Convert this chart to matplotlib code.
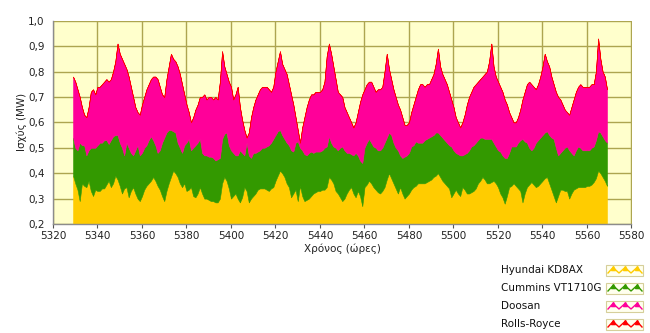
import matplotlib
matplotlib.use("Agg")
import matplotlib.pyplot as plt
from matplotlib.patches import Rectangle
from matplotlib.lines import Line2D

# Hourly output per generating unit (MW), hours 5329..5569
hours = list(range(5329, 5570))

hyundai = [
    .39, .36, .335, .29, .36, .35, .345, .37, .33, .31,
    .335, .33, .33, .34, .34, .355, .37, .345, .36, .39,
    .375, .35, .32, .34, .345, .305, .33, .345, .32, .30,
    .29, .31, .335, .35, .36, .37, .385, .37, .35, .335,
    .31, .29, .33, .36, .385, .41, .40, .385, .36, .345,
    .36, .33, .335, .345, .31, .305, .32, .345, .32, .30,
    .30, .295, .29, .29, .285, .285, .30, .36, .385, .37,
    .34, .30, .31, .32, .30, .285, .305, .345, .33, .285,
    .30, .31, .32, .335, .34, .34, .34, .335, .33, .34,
    .345, .37, .39, .41, .40, .385, .36, .345, .305, .32,
    .335, .29, .35, .31, .29, .295, .30, .31, .32, .325,
    .33, .33, .335, .335, .345, .385, .375, .36, .33, .32,
    .305, .29, .30, .32, .335, .345, .32, .305, .33, .31,
    .27, .345, .355, .37, .36, .345, .335, .325, .32, .33,
    .345, .375, .40, .38, .36, .34, .32, .345, .32, .30,
    .31, .32, .335, .345, .35, .36, .36, .36, .36, .365,
    .37, .375, .385, .39, .40, .385, .37, .36, .35, .34,
    .305, .32, .335, .32, .31, .345, .335, .32, .32, .325,
    .33, .34, .36, .37, .385, .375, .36, .36, .365, .37,
    .36, .345, .32, .305, .28, .31, .345, .35, .36, .35,
    .34, .33, .285, .32, .345, .355, .365, .355, .345, .35,
    .36, .37, .38, .385, .36, .335, .31, .285, .31, .335,
    .335, .33, .33, .30, .32, .335, .34, .345, .345, .345,
    .345, .35, .35, .355, .365, .38, .41, .40, .385, .37,
    .35,
]

cummins = [
    .15, .14, .155, .23, .15, .16, .125, .12, .17, .19,
    .165, .18, .19, .18, .19, .175, .145, .185, .185, .16,
    .175, .17, .18, .13, .175, .195, .15, .125, .17, .21,
    .18, .17, .165, .16, .17, .175, .145, .14, .13, .155,
    .21, .25, .23, .21, .185, .155, .16, .135, .14, .135,
    .15, .19, .20, .145, .19, .205, .20, .19, .16, .17,
    .17, .17, .175, .17, .165, .17, .16, .175, .17, .19,
    .17, .19, .17, .15, .17, .205, .175, .125, .19, .185,
    .16, .17, .16, .15, .15, .16, .16, .17, .18, .18,
    .19, .18, .175, .16, .15, .15, .16, .165, .185, .165,
    .185, .235, .15, .18, .185, .175, .18, .175, .16, .16,
    .155, .155, .155, .165, .16, .16, .145, .145, .17, .17,
    .195, .215, .19, .16, .145, .13, .15, .175, .14, .14,
    .17, .155, .165, .165, .16, .16, .165, .165, .17, .17,
    .175, .165, .16, .17, .16, .16, .17, .125, .14, .165,
    .16, .16, .17, .165, .175, .16, .16, .16, .17, .17,
    .17, .17, .165, .17, .16, .165, .17, .17, .17, .17,
    .20, .17, .145, .155, .16, .125, .14, .16, .17, .18,
    .18, .18, .17, .17, .155, .16, .175, .175, .17, .15,
    .145, .145, .165, .165, .18, .15, .135, .155, .145, .155,
    .18, .20, .25, .205, .175, .145, .125, .145, .175, .18,
    .18, .18, .18, .18, .19, .205, .225, .215, .16, .145,
    .155, .17, .175, .19, .16, .135, .15, .16, .155, .145,
    .145, .14, .14, .145, .14, .15, .155, .16, .16, .16,
    .17,
]

doosan = [
    .24, .26, .24, .18, .15, .12, .15, .17, .22, .23,
    .21, .23, .22, .23, .23, .24, .245, .24, .255, .29,
    .36, .35, .35, .36, .29, .28, .26, .23, .17, .13,
    .16, .19, .20, .22, .22, .225, .25, .27, .29, .25,
    .19, .16, .21, .25, .30, .285, .28, .30, .29, .27,
    .20, .15, .105, .11, .12, .14, .15, .165, .22, .24,
    .22, .235, .235, .23, .25, .235, .30, .345, .265, .23,
    .25, .25, .21, .24, .27, .17, .13, .10, .02, .09,
    .16, .18, .21, .225, .24, .24, .24, .235, .22, .20,
    .205, .25, .275, .31, .28, .275, .27, .24, .22, .185,
    .10, .045, .02, .09, .145, .19, .21, .225, .23, .235,
    .235, .235, .24, .26, .355, .365, .35, .315, .27, .23,
    .21, .195, .17, .16, .14, .125, .11, .12, .17, .23,
    .27, .23, .23, .225, .24, .235, .22, .24, .24, .24,
    .28, .33, .25, .22, .21, .20, .18, .18, .16, .125,
    .12, .12, .135, .16, .175, .21, .23, .23, .21, .215,
    .21, .225, .24, .27, .33, .27, .25, .24, .23, .21,
    .185, .17, .14, .125, .11, .13, .155, .19, .21, .215,
    .23, .23, .23, .23, .24, .255, .265, .305, .375, .30,
    .275, .27, .255, .25, .23, .21, .16, .115, .095, .095,
    .10, .12, .155, .195, .23, .26, .26, .24, .21, .22,
    .24, .27, .31, .275, .27, .24, .215, .22, .23, .21,
    .18, .15, .135, .14, .18, .22, .23, .235, .25, .25,
    .25, .25, .25, .25, .245, .27, .365, .29, .255, .25,
    .21,
]

rolls_royce = [0.0] * len(hours)

series_labels = ["Hyundai KD8AX", "Cummins VT1710G", "Doosan", "Rolls-Royce"]
series_colors = ["#FFCC00", "#339900", "#FF0099", "#FF0000"]

x_ticks = list(range(5320, 5581, 20))
y_ticks = [0.2, 0.3, 0.4, 0.5, 0.6, 0.7, 0.8, 0.9, 1.0]
y_tick_labels = ["0,2", "0,3", "0,4", "0,5", "0,6", "0,7", "0,8", "0,9", "1,0"]

W, H = 650, 333
plt.rcParams["font.family"] = ["DejaVu Sans"]

fig = plt.figure(figsize=(W / 100, H / 100), dpi=100)
fig.patch.set_facecolor("white")


def fx(px):
    return px / W


def fy(py):
    return 1 - py / H


ax = fig.add_axes([fx(53), fy(224), (631.5 - 53) / W, (224 - 20.7) / H])
ax.set_facecolor("#FFFFCC")

layers = ax.stackplot(hours, hyundai, cummins, doosan, rolls_royce,
                      colors=series_colors, linewidth=0.4)
for poly, c in zip(layers, series_colors):
    poly.set_edgecolor(c)

ax.set_xlim(5320, 5580)
ax.set_ylim(0.2, 1.0)
ax.set_xticks(x_ticks)
ax.set_yticks(y_ticks)
ax.set_yticklabels(y_tick_labels)
ax.set_axisbelow(True)
ax.grid(True, color="#ADA550", linewidth=1.0)

for side in ("top", "right"):
    ax.spines[side].set_visible(False)
for side in ("left", "bottom"):
    ax.spines[side].set_color("#8C8C8C")
    ax.spines[side].set_linewidth(1.0)

ax.tick_params(axis="x", length=3, width=0.8, color="#555555", pad=2,
               labelsize=7.5, labelcolor="#222222")
ax.tick_params(axis="y", length=0, pad=6, labelsize=7.5, labelcolor="#222222")

ax.set_xlabel("Χρόνος (ώρες)", fontsize=7.5, color="#222222", labelpad=2)
ax.set_ylabel("Ισχύς (MW)", fontsize=7.5, color="#222222", labelpad=1)

# Legend drawn below the plot at the right: label text plus a small sample box
legend_rows = [270, 288, 306, 324]
for label, color, yc in zip(series_labels, series_colors, legend_rows):
    fig.text(fx(501), fy(yc), label, fontsize=7.5, color="#111111",
             ha="left", va="center")
    fig.add_artist(Rectangle((fx(606), fy(yc + 5.5)), 37 / W, 11 / H,
                             transform=fig.transFigure, facecolor="#FFFFEE",
                             edgecolor="#D6CF9A", linewidth=0.8))
    zx = [608, 613, 619, 625, 631, 637, 642]
    zy = [yc + 3, yc - 2.5, yc + 3, yc - 2.5, yc + 3, yc - 2.5, yc + 3]
    fig.add_artist(Line2D([fx(v) for v in zx], [fy(v) for v in zy],
                          transform=fig.transFigure, color=color,
                          linewidth=1.0, marker="^", markersize=3,
                          markevery=[1, 3, 5]))

fig.savefig("out.png", dpi=100)
